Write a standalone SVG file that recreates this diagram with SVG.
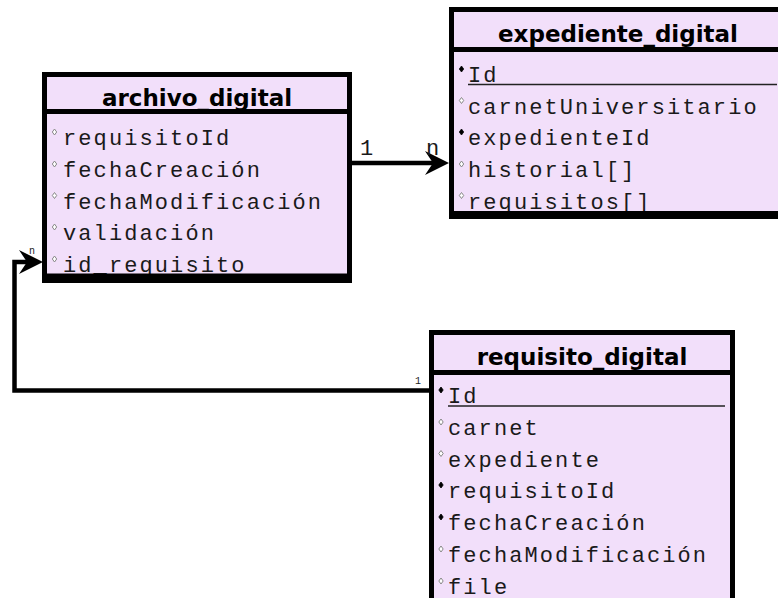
<svg xmlns="http://www.w3.org/2000/svg" width="778" height="598" viewBox="0 0 778 598">
<style>
.box{fill:#f2dffa;stroke:#000;stroke-width:5}
.sep{stroke:#000;stroke-width:5}
.title{font-family:"DejaVu Sans",sans-serif;font-weight:bold;font-size:23px;fill:#000;text-anchor:middle}
.attr{font-family:"Liberation Mono","DejaVu Sans Mono",monospace;font-size:22px;letter-spacing:2.1px;fill:#1a1a1a}
.lbl{font-family:"Liberation Mono","DejaVu Sans Mono",monospace;font-size:22px;letter-spacing:2.1px;fill:#1a1a1a}
.tiny{font-family:"Liberation Mono","DejaVu Sans Mono",monospace;font-size:10px;fill:#222}
.ul{stroke:#222;stroke-width:1.5}
.conn{fill:none;stroke:#000;stroke-width:4.5}
.dh{fill:#fff;stroke:#888;stroke-width:1}
.df{fill:#000;stroke:#000;stroke-width:0.8}
</style>
<defs>
<marker id="arr" markerUnits="userSpaceOnUse" markerWidth="32" markerHeight="32" refX="8" refY="0" orient="auto" viewBox="-2 -15 32 30">
<path d="M24,0 L0,-12 L8,0 L0,12 Z" fill="#000"/>
</marker>
<path id="dia" d="M0,-3 L2.2,0 L0,3 L-2.2,0 Z"/>
</defs>
<rect width="778" height="598" fill="#fff"/>

<g id="connectors">
<path class="conn" d="M352,163 L433,163" marker-end="url(#arr)"/>
<path class="conn" d="M429,390.5 L14.5,390.5 L14.5,262 L27,262" marker-end="url(#arr)"/>
<text class="lbl" x="360" y="155">1</text>
<text class="lbl" x="426" y="155">n</text>
<text class="tiny" x="29" y="254">n</text>
<text class="tiny" x="415" y="384">1</text>
</g>

<g id="archivo_digital">
<rect class="box" x="44.5" y="74.5" width="305" height="206"/>
<line class="sep" x1="42" y1="111.5" x2="352" y2="111.5"/>
<text class="title" x="197" y="106">archivo_digital</text>
<use href="#dia" class="dh" x="54.5" y="132"/>
<text class="attr" x="63" y="145">requisitoId</text>
<use href="#dia" class="dh" x="54.5" y="164"/>
<text class="attr" x="63" y="177">fechaCreación</text>
<use href="#dia" class="dh" x="54.5" y="195.5"/>
<text class="attr" x="63" y="208.5">fechaModificación</text>
<use href="#dia" class="dh" x="54.5" y="227"/>
<text class="attr" x="63" y="240">validación</text>
<use href="#dia" class="dh" x="54.5" y="259"/>
<text class="attr" x="63" y="272">id_requisito</text>
<rect x="42" y="273.5" width="310" height="9.5" fill="#000"/>
</g>

<g id="expediente_digital">
<rect class="box" x="451.5" y="9.5" width="340" height="207"/>
<line class="sep" x1="449" y1="49.5" x2="790" y2="49.5"/>
<text class="title" x="618" y="42">expediente_digital</text>
<use href="#dia" class="df" x="461.5" y="69"/>
<text class="attr" x="468" y="82">Id</text>
<line class="ul" x1="468" y1="84.5" x2="777" y2="84.5"/>
<use href="#dia" class="dh" x="461.5" y="100.5"/>
<text class="attr" x="468" y="113.5">carnetUniversitario</text>
<use href="#dia" class="df" x="461.5" y="132"/>
<text class="attr" x="468" y="145">expedienteId</text>
<use href="#dia" class="dh" x="461.5" y="164"/>
<text class="attr" x="468" y="177">historial[]</text>
<use href="#dia" class="dh" x="461.5" y="195.5"/>
<text class="attr" x="468" y="208.5">requisitos[]</text>
<rect x="449" y="211" width="340" height="8" fill="#000"/>
</g>

<g id="requisito_digital">
<rect class="box" x="431.5" y="332.5" width="301" height="300"/>
<line class="sep" x1="429" y1="372.5" x2="735" y2="372.5"/>
<text class="title" x="582" y="365">requisito_digital</text>
<use href="#dia" class="df" x="441" y="390"/>
<text class="attr" x="448" y="403">Id</text>
<line class="ul" x1="448" y1="406" x2="725" y2="406"/>
<use href="#dia" class="dh" x="441" y="422"/>
<text class="attr" x="448" y="435">carnet</text>
<use href="#dia" class="dh" x="441" y="453.5"/>
<text class="attr" x="448" y="466.5">expediente</text>
<use href="#dia" class="df" x="441" y="485"/>
<text class="attr" x="448" y="498">requisitoId</text>
<use href="#dia" class="df" x="441" y="517"/>
<text class="attr" x="448" y="530">fechaCreación</text>
<use href="#dia" class="dh" x="441" y="549"/>
<text class="attr" x="448" y="562">fechaModificación</text>
<use href="#dia" class="dh" x="441" y="581"/>
<text class="attr" x="448" y="594">file</text>
</g>
</svg>
